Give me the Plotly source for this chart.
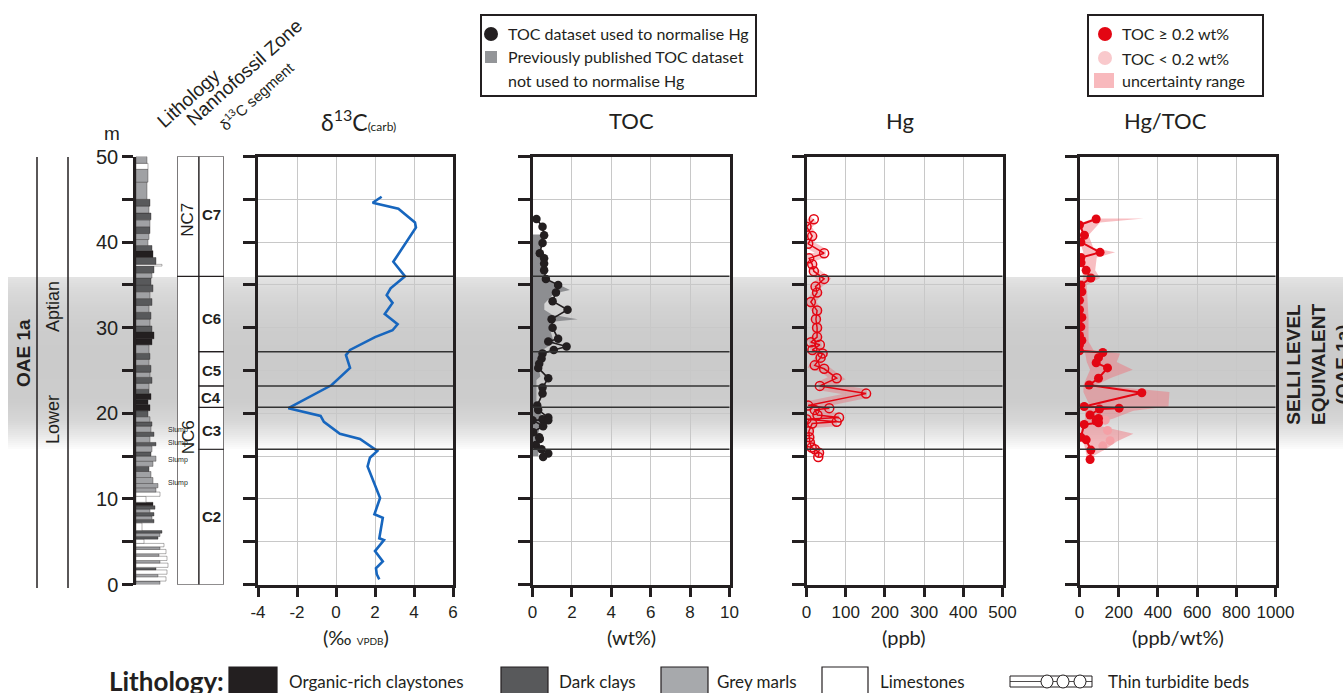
import plotly.graph_objects as go
import numpy as np

W, H = 1343, 693
def px(x): return x / W
def py(y): return 1 - y / H

# ---------------- data ----------------
boundaries = [36.0, 27.2, 23.2, 20.7, 15.8]

nc_names = ["NC6", "NC7"]
nc_base = [0.0, 36.0]
nc_top = [36.0, 50.0]
nc_label_depth = [17.2, 42.6]

seg_names = ["C2", "C3", "C4", "C5", "C6", "C7"]
seg_base = [0.0, 15.8, 20.7, 23.2, 27.2, 36.0]
seg_top = [15.8, 20.7, 23.2, 27.2, 36.0, 50.0]
seg_label_depth = [7.9, 18.0, 21.9, 25.0, 31.1, 43.2]

depth_ticks = [0, 10, 20, 30, 40, 50]

lith_base = [0.0, 0.4, 0.9, 1.2, 1.7, 2.0, 2.5, 2.8, 3.3, 3.6,
             4.1, 4.4, 4.8, 5.3, 5.6, 6.0, 6.3, 7.2, 7.6, 8.0,
             8.4, 8.8, 9.2, 9.6, 10.3, 10.8, 11.3, 11.8, 12.5, 13.2,
             13.8, 14.4, 15.0, 15.5, 16.2, 16.6, 17.3, 17.8, 18.5, 19.0,
             19.6, 20.3, 21.0, 21.6, 22.3, 22.8, 23.5, 24.2, 24.8, 25.6,
             26.3, 27.0, 28.0, 28.7, 29.5, 30.2, 31.0, 31.8, 32.6, 33.4,
             34.2, 35.0, 35.8, 36.4, 37.2, 37.4, 38.2, 39.0, 39.6, 40.3,
             41.0, 41.8, 42.6, 43.4, 44.2, 45.0, 47.0, 48.5, 49.2]
lith_type = list("GLGLDLGLGL" "GLLDGDLDGD" "GDOLLGGGGD" "GGDGDGDGDG"
                 "DOOODGDGDG" "DGOODGDGDG" "DDGDLDODGG" "DGDGDGGLG")
lith_width = [24, 30, 22, 31, 20, 32, 24, 31, 23, 30,
              24, 28, 8, 22, 24, 26, 6, 18, 16, 18,
              14, 19, 17, 10, 24, 20, 22, 17, 15, 13,
              17, 20, 15, 16, 20, 14, 18, 15, 16, 14,
              12, 14, 12, 15, 13, 13, 16, 14, 15, 13,
              14, 13, 16, 18, 16, 14, 15, 13, 16, 14,
              17, 15, 16, 18, 26, 20, 17, 16, 12, 13,
              14, 14, 15, 13, 14, 11, 12, 12, 11]
slump_depth = [18.0, 16.5, 14.6, 11.8]

d13c_depth = [45.3, 44.6, 43.9, 42.3, 41.7, 37.7, 36.0, 34.6, 33.8, 32.9,
              31.6, 30.4, 29.7, 28.9, 27.4, 26.8, 25.3, 23.3, 20.6, 19.7,
              19.0, 17.6, 17.0, 15.6, 14.8, 13.8, 10.1, 8.2, 7.8, 5.4,
              5.2, 3.9, 2.7, 1.9, 1.2, 0.6]
d13c_value = [2.34, 1.88, 3.2, 4.05, 4.1, 2.94, 3.54, 2.8, 2.6, 2.9,
              2.5, 3.16, 2.9, 2.0, 0.72, 0.51, 0.72, -0.22, -2.44, -0.79,
              -0.62, 0.2, 1.23, 2.12, 1.74, 1.62, 2.26, 1.97, 2.4, 2.22,
              2.46, 2.0, 2.4, 2.05, 2.09, 2.22]

toc_depth = [42.7, 41.8, 40.8, 39.9, 38.7, 38.1, 37.5, 36.7, 35.7, 35.0,
             34.1, 33.1, 32.1, 31.0, 30.0, 28.7, 28.4, 27.8, 27.4, 27.0,
             26.4, 25.8, 25.3, 24.1, 23.0, 22.3, 20.9, 20.4, 19.5, 19.3,
             19.2, 19.2, 18.5, 17.8, 17.2, 17.0, 16.3, 15.8, 15.3, 14.9]
toc_value = [0.2, 0.51, 0.59, 0.51, 0.37, 0.59, 0.59, 0.59, 0.68, 1.3,
             1.19, 1.02, 1.78, 0.97, 1.02, 1.3, 0.8, 1.73, 1.08, 0.51,
             0.46, 0.34, 0.29, 0.8, 0.51, 0.51, 0.24, 0.29, 0.8, 0.51,
             0.8, 0.0, 0.54, 0.03, 0.34, 0.37, 0.17, 0.46, 0.8, 0.54]

toc_prev_depth = [40.9, 39.0, 37.9, 35.7, 35.2, 34.4, 34.0, 32.8, 32.1, 31.5,
                  31.0, 30.7, 29.7, 28.2, 27.4, 25.4, 24.3, 23.9, 21.2, 19.6,
                  17.7, 15.0]
toc_prev_value = [0.55, 0.4, 0.55, 0.6, 1.2, 1.9, 1.1, 0.6, 0.6, 1.0,
                  2.3, 1.0, 0.9, 1.1, 0.5, 0.3, 0.4, 0.2, 0.2, 0.5,
                  0.3, 0.3]

hg_depth = [42.66, 41.8, 40.7, 39.8, 38.7, 38.1, 37.4, 36.6, 35.7, 34.8,
            34.1, 33.0, 32.0, 31.0, 30.0, 28.9, 28.3, 28.0, 27.4, 27.0,
            26.5, 25.6, 25.2, 24.1, 23.2, 22.3, 20.9, 20.6, 20.4, 19.8,
            19.5, 19.3, 19.0, 18.8, 17.9, 17.2, 16.6, 16.0, 15.8, 15.4,
            14.9]
hg_value = [18.7, 0, 14.5, 4.3, 45, 6.8, 14.5, 18.7, 45, 23,
            27, 11, 27, 24, 27, 27, 11, 34, 15, 41,
            36, 21, 45, 77, 34, 152, 4.3, 58, 21, 28,
            83, 0, 77, 14.5, 6, 7, 8.5, 13, 21, 32,
            30]

hgtoc_depth = [42.7, 42.0, 40.8, 40.0, 38.8, 38.2, 37.6, 36.7, 35.8, 35.0,
               34.2, 33.2, 32.1, 31.2, 30.1, 29.1, 28.5, 28.0, 27.3, 27.1,
               26.5, 25.9, 25.3, 24.1, 23.3, 22.4, 20.8, 20.6, 20.5, 19.8,
               19.4, 19.1, 18.9, 18.7, 17.2, 16.9, 15.7, 14.6]
hgtoc_value = [85, 0, 25, 7, 105, 7, 8, 34, 58, 7,
               12, 0, 0, 12, 7, 0, 12, 0, 0, 119,
               97, 85, 143, 97, 49, 318, 24, 202, 102, 54,
               97, 85, 97, 24, 7, 34, 58, 54]

hgtoc_low_depth = [19.2, 18.0, 16.8, 16.2]
hgtoc_low_value = [131, 143, 156, 119]

unc_depth = [42.77, 42.3, 40.8, 39.3, 38.8, 38.2, 36.7, 35.8, 35.0, 31.1,
             28.4, 27.4, 27.0, 26.0, 25.1, 24.1, 23.3, 22.5, 20.8, 20.3,
             19.4, 18.7, 17.6, 16.7, 15.9, 15.0]
unc_low = [71, 12, 12, 12, 20, 7, 12, 20, 0, 0,
           0, 0, 29, 37, 54, 37, 20, 20, 54, 29,
           29, 7, 12, 20, 29, 37]
unc_high = [327, 105, 46, 71, 182, 88, 80, 105, 37, 46,
            46, 71, 207, 190, 272, 156, 88, 459, 454, 275,
            173, 71, 275, 190, 139, 71]

# ---------------- styles ----------------
INK = '#231f20'
RED = '#e30613'
MYR = 'Lato, Noto Sans, sans-serif'
ARL = 'Liberation Sans, Arial, sans-serif'
YDOM = [py(584.5), py(156.5)]

fig = go.Figure()

# lithology column
lith_colors = {'O': '#231f20', 'D': '#58595b', 'G': '#a0a1a4', 'L': '#ffffff'}
lith_top = lith_base[1:] + [50.0]
fig.add_trace(go.Bar(
    y=[(b + t) / 2 for b, t in zip(lith_base, lith_top)],
    x=lith_width, base=0, width=[t - b for b, t in zip(lith_base, lith_top)],
    orientation='h', marker=dict(color=[lith_colors[k] for k in lith_type],
                                 line=dict(color=INK, width=0.35)),
    xaxis='x', yaxis='y', showlegend=False, hoverinfo='skip'))

# zone columns
fig.add_trace(go.Bar(
    y=[(b + t) / 2 for b, t in zip(nc_base, nc_top)], x=[22] * len(nc_base), base=0,
    width=[t - b for b, t in zip(nc_base, nc_top)], orientation='h',
    marker=dict(color='white', line=dict(color=INK, width=1.2)),
    xaxis='x2', yaxis='y2', showlegend=False, hoverinfo='skip'))
fig.add_trace(go.Bar(
    y=[(b + t) / 2 for b, t in zip(seg_base, seg_top)], x=[25] * len(seg_base), base=22,
    width=[t - b for b, t in zip(seg_base, seg_top)], orientation='h',
    marker=dict(color='white', line=dict(color=INK, width=1.2)),
    xaxis='x2', yaxis='y2', showlegend=False, hoverinfo='skip'))

# d13C
fig.add_trace(go.Scatter(x=d13c_value, y=d13c_depth, mode='lines',
                         line=dict(color='#1766be', width=2.6),
                         xaxis='x3', yaxis='y3', showlegend=False))

# TOC
fig.add_trace(go.Scatter(x=[0] + toc_prev_value + [0], y=[toc_prev_depth[0]] + toc_prev_depth + [toc_prev_depth[-1]],
                         mode='lines', fill='toself', fillcolor='#8d8e91', line=dict(width=0),
                         xaxis='x4', yaxis='y4', showlegend=False))
fig.add_trace(go.Scatter(x=toc_value, y=toc_depth, mode='lines+markers',
                         line=dict(color=INK, width=1.6), marker=dict(color=INK, size=8.5),
                         xaxis='x4', yaxis='y4', showlegend=False))

# Hg
fig.add_trace(go.Scatter(x=hg_value, y=hg_depth, mode='lines',
                         line=dict(color='rgba(236,90,100,0.35)', width=9),
                         xaxis='x5', yaxis='y5', showlegend=False))
fig.add_trace(go.Scatter(x=hg_value, y=hg_depth, mode='lines+markers',
                         line=dict(color=RED, width=1.5),
                         marker=dict(symbol='circle-open', color=RED, size=9, line=dict(width=1.5)),
                         xaxis='x5', yaxis='y5', showlegend=False))

# Hg/TOC
fig.add_trace(go.Scatter(x=unc_low + unc_high[::-1], y=unc_depth + unc_depth[::-1],
                         mode='lines', fill='toself', fillcolor='rgba(240,110,120,0.45)',
                         line=dict(width=0), xaxis='x6', yaxis='y6', showlegend=False))
fig.add_trace(go.Scatter(x=hgtoc_low_value, y=hgtoc_low_depth, mode='markers',
                         marker=dict(color='#f4a0a6', size=9),
                         xaxis='x6', yaxis='y6', showlegend=False))
fig.add_trace(go.Scatter(x=hgtoc_value, y=hgtoc_depth, mode='lines+markers',
                         line=dict(color=RED, width=2), marker=dict(color=RED, size=9),
                         xaxis='x6', yaxis='y6', showlegend=False))

# ---------------- axes ----------------
layout = dict(
    xaxis=dict(domain=[px(136), px(176)], range=[0, 40], visible=False, anchor='y', automargin=False),
    yaxis=dict(domain=YDOM, range=[0, 50], anchor='x', showline=True, linecolor=INK, linewidth=2.5,
               ticks='outside', ticklen=11, tickwidth=2.5, tickcolor=INK,
               tickvals=depth_ticks, ticktext=[str(v) for v in depth_ticks],
               minor=dict(ticks='outside', dtick=5, tick0=0, ticklen=11, tickwidth=2.5, tickcolor=INK,
                          showgrid=False),
               tickfont=dict(size=20, family=ARL, color=INK), showgrid=False, zeroline=False,
               automargin=False),
    xaxis2=dict(domain=[px(177), px(224)], range=[0, 47], visible=False, anchor='y2', automargin=False),
    yaxis2=dict(domain=YDOM, range=[0, 50], visible=False, anchor='x2', automargin=False),
)
panels = [
    (3, 258, 453, [-4, 6], [-4, -2, 0, 2, 4, 6], ['-4', '-2', '0', '2', '4', '6']),
    (4, 532.5, 729.5, [0, 10], [0, 2, 4, 6, 8, 10], ['0', '2', '4', '6', '8', '10']),
    (5, 806.5, 1002.5, [0, 500], [0, 100, 200, 300, 400, 500], ['0', '100', '200', '300', '400', '500']),
    (6, 1079.5, 1275.5, [0, 1000], [0, 200, 400, 600, 800, 1000], ['0', '200', '400', '600', '800', '1000']),
]
for n, x0, x1, rng, tv, tt in panels:
    layout[f'xaxis{n}'] = dict(domain=[px(x0), px(x1)], range=rng, anchor=f'y{n}', tickvals=tv, ticktext=tt,
                               showgrid=True, gridcolor='#c8c8c8', gridwidth=1, showline=True,
                               linecolor=INK, linewidth=2.5, mirror=True, ticks='outside', ticklen=10,
                               tickwidth=2.5, tickcolor=INK, zeroline=False, automargin=False,
                               tickfont=dict(size=17, family=ARL, color=INK))
    layout[f'yaxis{n}'] = dict(domain=YDOM, range=[0, 50], anchor=f'x{n}', tickvals=list(range(0, 51, 5)),
                               showticklabels=False, showgrid=True, gridcolor='#c8c8c8', gridwidth=1,
                               showline=True, linecolor=INK, linewidth=2.5, mirror=True, ticks='outside',
                               ticklen=12, tickwidth=2.5, tickcolor=INK, zeroline=False, automargin=False)

# ---------------- shapes ----------------
shapes = []
band_y = [277, 290, 310, 330, 360, 400, 420, 435, 449]
band_g = [228, 218, 210, 205, 203, 205, 214, 232, 253]
for y0 in range(277, 449, 2):
    g = int(np.interp(y0 + 1, band_y, band_g))
    shapes.append(dict(type='rect', xref='paper', yref='paper', x0=px(8), x1=1,
                       y0=py(min(y0 + 3, 449)), y1=py(y0),
                       fillcolor=f'rgb({g},{g},{g})', line_width=0, layer='below'))
for n in range(3, 7):
    for b in boundaries:
        shapes.append(dict(type='line', xref=f'x{n} domain', yref=f'y{n}', x0=0, x1=1, y0=b, y1=b,
                           line=dict(color='#333333', width=1.5), layer='above'))
for xx in [37, 68]:
    shapes.append(dict(type='line', xref='paper', yref='paper', x0=px(xx), x1=px(xx), y0=py(157), y1=py(588),
                       line=dict(color=INK, width=1.5)))

# top legends
shapes.append(dict(type='rect', xref='paper', yref='paper', x0=px(481), x1=px(756), y0=py(96), y1=py(15),
                   line=dict(color=INK, width=2), fillcolor='white', layer='below'))
shapes.append(dict(type='circle', xref='paper', yref='paper', x0=px(484), x1=px(498), y0=py(41), y1=py(27),
                   fillcolor=INK, line_width=0))
shapes.append(dict(type='rect', xref='paper', yref='paper', x0=px(485), x1=px(497), y0=py(63), y1=py(51),
                   fillcolor='#939598', line_width=0))
shapes.append(dict(type='rect', xref='paper', yref='paper', x0=px(1088), x1=px(1263), y0=py(96), y1=py(15),
                   line=dict(color=INK, width=2), fillcolor='white', layer='below'))
shapes.append(dict(type='circle', xref='paper', yref='paper', x0=px(1098), x1=px(1112), y0=py(41), y1=py(27),
                   fillcolor=RED, line_width=0))
shapes.append(dict(type='circle', xref='paper', yref='paper', x0=px(1098), x1=px(1112), y0=py(65), y1=py(51),
                   fillcolor='#f9c9cc', line_width=0))
shapes.append(dict(type='rect', xref='paper', yref='paper', x0=px(1094), x1=px(1114), y0=py(88), y1=py(73),
                   fillcolor='#f8b9bd', line_width=0))

# bottom legend swatches
for x0, x1, col in [(229, 277, '#231f20'), (501, 548, '#58595b'), (661, 708, '#a7a9ac'), (822, 868, '#ffffff')]:
    shapes.append(dict(type='rect', xref='paper', yref='paper', x0=px(x0), x1=px(x1), y0=py(700), y1=py(667),
                       fillcolor=col, line=dict(color=INK, width=1.2)))
shapes.append(dict(type='rect', xref='paper', yref='paper', x0=px(1010), x1=px(1092), y0=py(687), y1=py(676),
                   fillcolor='white', line=dict(color=INK, width=1)))
shapes.append(dict(type='line', xref='paper', yref='paper', x0=px(1010), x1=px(1092), y0=py(681.5), y1=py(681.5),
                   line=dict(color=INK, width=0.8)))
for cx in [1047, 1063, 1080]:
    shapes.append(dict(type='circle', xref='paper', yref='paper', x0=px(cx - 6), x1=px(cx + 6), y0=py(688), y1=py(675),
                       fillcolor='white', line=dict(color=INK, width=1)))

# ---------------- annotations ----------------
ann = []
def txt(x, y, s, size, family=MYR, xanchor='center', angle=0, bold=False, color=INK, xref='paper', yref='paper'):
    if bold:
        s = f'<b>{s}</b>'
    ann.append(dict(x=px(x) if xref == 'paper' else x, y=py(y) if yref == 'paper' else y, xref=xref, yref=yref,
                    text=s, showarrow=False, xanchor=xanchor, yanchor='middle', textangle=angle,
                    font=dict(size=size, family=family, color=color)))

# column headers
txt(188, 98, 'Lithology', 19, family=ARL, angle=-42)
txt(244, 72, 'Nannofossil Zone', 19, family=ARL, angle=-42)
txt(256, 96, 'δ<sup>13</sup>C segment', 15, family=ARL, angle=-42)
txt(112, 133, 'm', 19, family=ARL)

# left stage text
txt(23, 353, 'OAE 1a', 19, family=ARL, angle=-90, bold=True)
txt(53, 307, 'Aptian', 18, family=ARL, angle=-90)
txt(53, 420, 'Lower', 18, family=ARL, angle=-90)

# zone labels
for name, d in zip(nc_names, nc_label_depth):
    ann.append(dict(x=11, y=d, xref='x2', yref='y2', text=name, showarrow=False, textangle=-90,
                    font=dict(size=17, family=ARL, color=INK)))
for name, d in zip(seg_names, seg_label_depth):
    ann.append(dict(x=34.5, y=d, xref='x2', yref='y2', text=f'<b>{name}</b>', showarrow=False,
                    font=dict(size=15, family=ARL, color=INK)))
for d in slump_depth:
    ann.append(dict(x=30, y=d, xref='x', yref='y', text='Slump', showarrow=False, xanchor='left',
                    font=dict(size=7, family=ARL, color=INK)))

# panel titles
txt(358, 120, 'δ<sup>13</sup>C<span style="font-size:12px">(carb)</span>', 23)
txt(631, 120, 'TOC', 22)
txt(900, 120, 'Hg', 22)
txt(1165, 120, 'Hg/TOC', 22)
# axis titles
txt(356, 637, '(‰ <span style="font-size:10px">VPDB</span>)', 20)
txt(631, 637, '(wt%)', 20)
txt(904, 637, '(ppb)', 20)
txt(1178, 637, '(ppb/wt%)', 20)

# right label
txt(1318, 365, 'SELLI LEVEL<br>EQUIVALENT<br>(OAE 1a)', 19, family=ARL, angle=-90, bold=True)

# top legend texts
txt(506, 34, 'TOC dataset used to normalise Hg', 16, xanchor='left')
txt(506, 57, 'Previously published TOC dataset', 16, xanchor='left')
txt(506, 80, 'not used to normalise Hg', 16, xanchor='left')
txt(1120, 34, 'TOC ≥ 0.2 wt%', 16, xanchor='left')
txt(1120, 58, 'TOC < 0.2 wt%', 16, xanchor='left')
txt(1120, 80, 'uncertainty range', 16, xanchor='left')

# bottom legend texts
txt(107, 681, 'Lithology:', 26, xanchor='left', bold=True)
txt(287, 681, 'Organic-rich claystones', 17, xanchor='left')
txt(557, 681, 'Dark clays', 17, xanchor='left')
txt(715, 681, 'Grey marls', 17, xanchor='left')
txt(878, 681, 'Limestones', 17, xanchor='left')
txt(1106, 681, 'Thin turbidite beds', 17, xanchor='left')

fig.update_layout(**layout)
fig.update_layout(template=go.layout.Template(), width=W, height=H, autosize=False,
                  margin=dict(l=0, r=0, t=0, b=0, pad=0, autoexpand=False),
                  paper_bgcolor='white', plot_bgcolor='rgba(0,0,0,0)', barmode='overlay',
                  shapes=shapes, annotations=ann, showlegend=False,
                  font=dict(family=ARL, color=INK))
fig.write_html('out.html', config={'displayModeBar': False, 'responsive': False},
               post_script="document.body.style.margin='0px';document.body.style.padding='0px';")
